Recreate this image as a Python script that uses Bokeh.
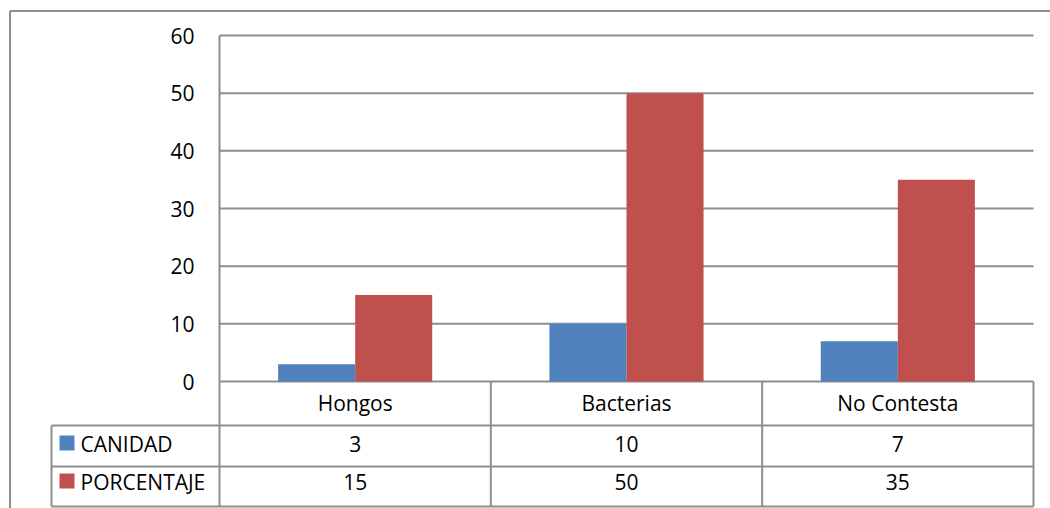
from bokeh.plotting import figure
from bokeh.models import Range1d, LinearAxis, FixedTicker, ColumnDataSource
from bokeh.core.properties import value
from bokeh.transform import dodge
from bokeh.embed import file_html
from bokeh.resources import INLINE

# ---------------- data ----------------
categories = ["Hongos", "Bacterias", "No Contesta"]
series_names = ["CANIDAD", "PORCENTAJE"]
canidad = [3, 10, 7]
porcentaje = [15, 50, 35]
y_ticks = [0, 10, 20, 30, 40, 50, 60]

# ---------------- style / layout (page pixels) ----------------
BLUE, RED = "#4F81BD", "#C0504D"
LINE = "#8e8e8e"
FONT = "Open Sans"
FSIZE = "21px"
W, H = 1050, 508
PAGE_X0, PAGE_Y0 = 0, 0
AX_L, AX_R = 219, 1033          # plot area left/right
AX_T, AX_0 = 35, 381            # y=60 and y=0
TBL_L = 51                       # table left edge
ROW1_B, ROW2_B, ROW3_B = 425, 466, 506
TXT_Y1, TXT_Y2, TXT_Y3 = 402, 443.5, 481   # text centre lines of the table rows
KEY_Y2, KEY_Y3 = 442.5, 480.5
OUT_L, OUT_T = 9.5, 10.5
BAR_W = 0.284

ncat = len(categories)
ymax = y_ticks[-1]


def px2x(px):
    return (px - AX_L) / (AX_R - AX_L) * ncat


def py2y(py):
    return (AX_0 - py) / (AX_0 - AX_T) * ymax


p = figure(width=W, height=H, min_border=0,
           x_range=Range1d(px2x(PAGE_X0), px2x(PAGE_X0 + W)),
           y_range=Range1d(py2y(PAGE_Y0 + H), py2y(PAGE_Y0)),
           x_axis_location=None, y_axis_location=None,
           toolbar_location=None, output_backend="svg",
           outline_line_color=None, background_fill_color="white",
           border_fill_color="white")
p.grid.visible = False

# y axis at the plot-area left edge
yaxis = LinearAxis(fixed_location=0, bounds=(0, ymax),
                   ticker=FixedTicker(ticks=y_ticks),
                   axis_line_color=LINE, axis_line_width=2,
                   major_tick_line_color=None, minor_tick_line_color=None,
                   major_tick_out=0, major_tick_in=0,
                   major_label_standoff=25,
                   major_label_text_font=FONT,
                   major_label_text_font_size=FSIZE,
                   major_label_text_color="#000000")
p.add_layout(yaxis, "left")

# horizontal gridlines inside plot area
p.segment(x0=[0] * len(y_ticks), x1=[ncat] * len(y_ticks),
          y0=y_ticks, y1=y_ticks, line_color=LINE, line_width=2)

# bars
centers = [i + 0.5 for i in range(ncat)]
src = ColumnDataSource(dict(x=centers, canidad=canidad, porcentaje=porcentaje))
p.vbar(x=dodge("x", -BAR_W / 2, range=p.x_range), top="canidad", width=BAR_W,
       source=src, fill_color=BLUE, line_color=None)
p.vbar(x=dodge("x", BAR_W / 2, range=p.x_range), top="porcentaje", width=BAR_W,
       source=src, fill_color=RED, line_color=None)

# data table grid
y_r1, y_r2, y_r3 = py2y(ROW1_B), py2y(ROW2_B), py2y(ROW3_B)
xl = px2x(TBL_L)
vx0 = [i for i in range(ncat + 1)] + [xl]
vy0 = [0] * (ncat + 1) + [y_r1]
vy1 = [y_r3] * (ncat + 2)
p.segment(x0=vx0, x1=vx0, y0=vy0, y1=vy1, line_color=LINE, line_width=2)
hy = [y_r1, y_r2, y_r3]
p.segment(x0=[xl] * 3, x1=[ncat] * 3, y0=hy, y1=hy, line_color=LINE, line_width=2)

# outer chart border (top and left visible)
p.segment(x0=[px2x(OUT_L), px2x(OUT_L)], x1=[px2x(PAGE_X0 + W), px2x(OUT_L)],
          y0=[py2y(OUT_T), py2y(OUT_T)], y1=[py2y(OUT_T), py2y(PAGE_Y0 + H)],
          line_color=LINE, line_width=2)

# table texts
txt = dict(text_font=value(FONT), text_font_size=FSIZE, text_color="#000000",
           text_baseline="middle")
mid1, mid2, mid3 = py2y(TXT_Y1), py2y(TXT_Y2), py2y(TXT_Y3)
p.text(x=centers, y=[mid1] * ncat, text=categories, text_align="center", **txt)
p.text(x=centers, y=[mid2] * ncat, text=[str(v) for v in canidad],
       text_align="center", **txt)
p.text(x=centers, y=[mid3] * ncat, text=[str(v) for v in porcentaje],
       text_align="center", **txt)
p.text(x=[px2x(80), px2x(80)], y=[mid2, mid3], text=series_names,
       text_align="left", **txt)
p.scatter(x=[px2x(66.5), px2x(66.5)], y=[py2y(KEY_Y2), py2y(KEY_Y3)],
          marker="square", size=15, fill_color=[BLUE, RED], line_color=None)

open("out.html", "w").write(file_html(p, INLINE))
